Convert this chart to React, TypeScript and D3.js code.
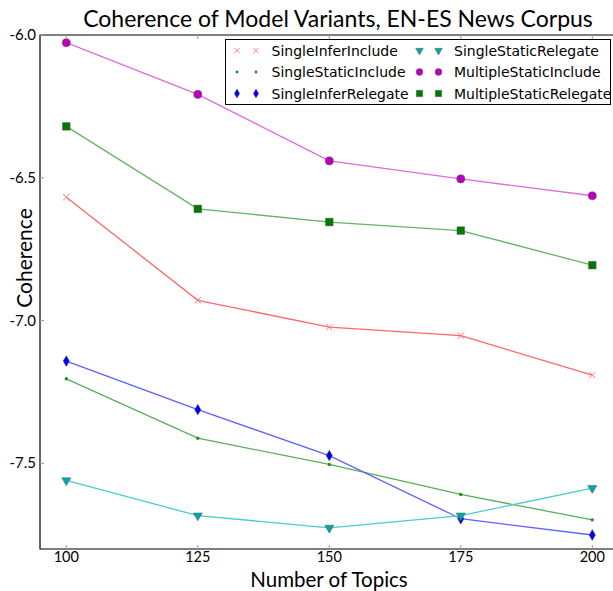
import React, { useRef, useEffect } from "react";
import * as d3 from "d3";

// data
const topics = [100, 125, 150, 175, 200];
const singleInferInclude = [-6.568, -6.929, -7.023, -7.053, -7.191];
const singleStaticInclude = [-7.204, -7.412, -7.504, -7.609, -7.698];
const singleInferRelegate = [-7.142, -7.312, -7.473, -7.694, -7.751];
const singleStaticRelegate = [-7.56, -7.683, -7.726, -7.683, -7.587];
const multipleStaticInclude = [-6.027, -6.208, -6.441, -6.504, -6.563];
const multipleStaticRelegate = [-6.32, -6.609, -6.655, -6.685, -6.806];
const yTicks = [-6.0, -6.5, -7.0, -7.5];

const series = [
  { name: "SingleInferInclude", values: singleInferInclude, line: "#ff6666", fill: "#ff7777", symbol: "x" },
  { name: "SingleStaticInclude", values: singleStaticInclude, line: "#5aae5a", fill: "#1f8f1f", symbol: "dot" },
  { name: "SingleInferRelegate", values: singleInferRelegate, line: "#6060ff", fill: "#0000ee", symbol: "diamond" },
  { name: "SingleStaticRelegate", values: singleStaticRelegate, line: "#4ccccc", fill: "#00a8a8", symbol: "tri" },
  { name: "MultipleStaticInclude", values: multipleStaticInclude, line: "#d870d8", fill: "#bb00bb", symbol: "circle" },
  { name: "MultipleStaticRelegate", values: multipleStaticRelegate, line: "#66b366", fill: "#007a00", symbol: "square" },
];

const W = 613;
const H = 591;

function drawMarker(g, kind, fill, x, y, k = 1) {
  const at = "translate(" + x + "," + y + ")";
  if (kind === "x") {
    const r = 3.2 * Math.sqrt(k);
    g.append("path")
      .attr("d", `M${-r},${-r}L${r},${r}M${-r},${r}L${r},${-r}`)
      .attr("transform", at)
      .attr("stroke", fill)
      .attr("stroke-width", 1)
      .attr("fill", "none");
    return;
  }
  let path;
  if (kind === "dot") path = d3.symbol(d3.symbolCircle, 9 * k)();
  else if (kind === "diamond") path = d3.symbol(d3.symbolDiamond, 34 * k)();
  else if (kind === "tri") path = d3.symbol(d3.symbolTriangle, 36 * k)();
  else if (kind === "circle") path = d3.symbol(d3.symbolCircle, 52 * k)();
  else path = d3.symbol(d3.symbolSquare, 58 * k)();
  g.append("path")
    .attr("d", path)
    .attr("transform", kind === "tri" ? at + " rotate(180)" : at)
    .attr("fill", fill)
    .attr("stroke", kind === "dot" ? "none" : "#555")
    .attr("stroke-opacity", 0.6)
    .attr("stroke-width", 0.8);
}

const App = () => {
  const ref = useRef(null);

  useEffect(() => {
    if (!ref.current) return;
    const svg = d3.select(ref.current);
    svg.selectAll("*").remove();

    const margin = { left: 40, top: 35, bottom: 549 };
    const x = d3.scaleLinear().domain([95, 205]).range([margin.left, 618.6]);
    const y = d3.scaleLinear().domain([-7.8, -6.0]).range([margin.bottom, margin.top]);

    // series lines then markers
    const lineGen = d3
      .line()
      .x((d, i) => x(topics[i]))
      .y((d) => y(d));

    series.forEach((s) => {
      svg.append("path")
        .datum(s.values)
        .attr("d", lineGen)
        .attr("fill", "none")
        .attr("stroke", s.line)
        .attr("stroke-width", 1.3);
    });
    series.forEach((s) => {
      const g = svg.append("g");
      s.values.forEach((v, i) => drawMarker(g, s.symbol, s.fill, x(topics[i]), y(v)));
    });

    // frame
    const frame = svg.append("g").attr("stroke", "#000").attr("fill", "none");
    frame.append("path")
      .attr("d", "M" + x(205) + "," + y(-6.0) + "H" + x(95) + "V" + y(-7.8) + "H" + x(205))
      .attr("stroke-width", 1.2);

    // ticks (inside)
    topics.forEach((t) => {
      frame.append("line").attr("x1", x(t)).attr("x2", x(t)).attr("y1", y(-7.8)).attr("y2", y(-7.8) - 4).attr("stroke", "#999");
      frame.append("line").attr("x1", x(t)).attr("x2", x(t)).attr("y1", y(-6.0)).attr("y2", y(-6.0) + 4).attr("stroke", "#999");
    });
    yTicks.forEach((t) => {
      frame.append("line").attr("x1", x(95)).attr("x2", x(95) + 4).attr("y1", y(t)).attr("y2", y(t)).attr("stroke", "#999");
    });

    const font = "Lato, 'Open Sans', sans-serif";
    svg.append("g")
      .selectAll("text")
      .data(topics)
      .join("text")
      .attr("x", (d) => x(d))
      .attr("y", y(-7.8) + 13)
      .attr("text-anchor", "middle")
      .attr("font-family", font)
      .attr("font-size", 14.5)
      .text((d) => d);

    svg.append("g")
      .selectAll("text")
      .data(yTicks)
      .join("text")
      .attr("x", x(95) - 4)
      .attr("y", (d) => y(d) + 5)
      .attr("text-anchor", "end")
      .attr("font-family", font)
      .attr("font-size", 15)
      .text((d) => d3.format(".1f")(d).replace("−", "-"));

    svg.append("text")
      .attr("x", 338)
      .attr("y", 27)
      .attr("text-anchor", "middle")
      .attr("font-family", font)
      .attr("font-size", 23)
      .text("Coherence of Model Variants, EN-ES News Corpus");

    svg.append("text")
      .attr("x", 329)
      .attr("y", 586.5)
      .attr("text-anchor", "middle")
      .attr("font-family", font)
      .attr("font-size", 20.5)
      .text("Number of Topics");

    svg.append("text")
      .attr("transform", "translate(32," + 258 + ") rotate(-90)")
      .attr("text-anchor", "middle")
      .attr("font-family", font)
      .attr("font-size", 21)
      .text("Coherence");

    // legend
    const lg = svg.append("g");
    lg.append("rect")
      .attr("x", 225.5)
      .attr("y", 39.5)
      .attr("width", 385)
      .attr("height", 65)
      .attr("fill", "#fff")
      .attr("stroke", "#000");
    const rowY = [50.5, 72, 93.5];
    const colX = [237, 419.5];
    series.forEach((s, i) => {
      const cx = colX[Math.floor(i / 3)];
      const cy = rowY[i % 3];
      drawMarker(lg, s.symbol, s.fill, cx, cy, 0.7);
      drawMarker(lg, s.symbol, s.fill, cx + 19, cy, 0.7);
      lg.append("text")
        .attr("x", cx + 34.5)
        .attr("y", cy + 5)
        .attr("font-family", "'DejaVu Sans', sans-serif")
        .attr("font-size", 14)
        .text(s.name);
    });
  }, []);

  return (
    <div style={{ position: "absolute", left: 0, top: 0 }}>
      <svg ref={ref} width={W} height={H} style={{ display: "block" }} />
    </div>
  );
};

export default App;
